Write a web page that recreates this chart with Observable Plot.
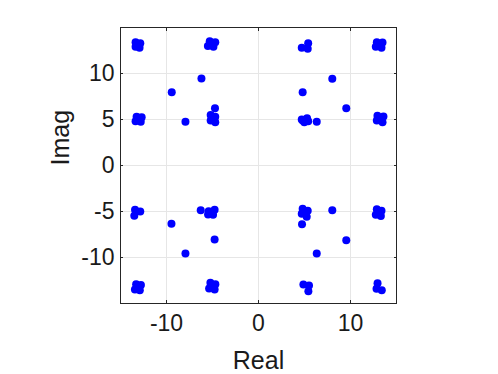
<!DOCTYPE html>
<html>
<head>
<meta charset="utf-8">
<script src="https://cdn.jsdelivr.net/npm/d3@7"></script>
<script src="https://cdn.jsdelivr.net/npm/@observablehq/plot@0.6"></script>
<style>
  html, body { margin: 0; padding: 0; background: #fff; }
  #chart svg { display: block; }
</style>
</head>
<body>
<div id="chart"></div>
<script>
const realParts = [
  -13.36, -12.85, -13.36, -12.93,
  -5.3, -4.7, -5.5, -4.9,
  -6.2, -9.43, -4.73, -7.94,
  -5.2, -4.7, -5.2, -4.7,
  -13.25, -12.7, -13.36, -12.8,
  4.7, 5.4, 5.35,
  12.86, 13.48, 12.75, 13.37,
  8.02, 4.8, 9.54, 6.33,
  4.8, 5.28, 4.98, 5.4, 4.7,
  12.93, 13.58, 12.86, 13.48,
  -13.42, -12.85, -13.5,
  -9.46, -6.28,
  -5.42, -4.77, -5.48, -4.94, -5.1,
  -4.77, -7.94,
  -13.3, -12.78, -13.43, -12.9,
  -5.23, -4.69, -5.37, -4.77,
  4.8, 5.35, 4.7, 5.24, 5.0, 4.73,
  8.02, 9.54, 6.33,
  12.86, 13.37, 12.75, 13.3,
  4.88, 5.49, 5.42,
  12.94, 12.83, 13.4
];
const imagParts = [
  13.4, 13.3, 12.9, 12.8,
  13.5, 13.4, 13.0, 12.9,
  9.46, 7.97, 6.23, 4.75,
  5.5, 5.3, 4.9, 4.7,
  5.3, 5.25, 4.8, 4.75,
  12.8, 13.3, 12.7,
  13.4, 13.37, 12.9, 12.8,
  9.42, 7.97, 6.23, 4.75,
  4.9, 5.14, 4.7, 4.8, 5.0,
  5.4, 5.33, 4.9, 4.7,
  -4.8, -5.0, -5.47,
  -6.34, -4.86,
  -4.97, -4.82, -5.33, -5.36, -5.1,
  -8.04, -9.57,
  -12.9, -13.0, -13.48, -13.55,
  -12.75, -12.9, -13.37, -13.48,
  -4.7, -4.92, -5.25, -5.58, -5.0, -6.38,
  -4.86, -8.12, -9.57,
  -4.75, -4.93, -5.36, -5.5,
  -12.93, -13.04, -13.66,
  -12.79, -13.4, -13.55
];
const xTicks = [-10, 0, 10];
const yTicks = [-10, -5, 0, 5, 10];
const xLabel = "Real";
const yLabel = "Imag";

const points = realParts.map((re, i) => ({re, im: imagParts[i]}));
const fmt = d => String(d);
const font = "'Liberation Sans', Arial, Helvetica, sans-serif";

const chart = Plot.plot({
  width: 498,
  height: 374,
  marginLeft: 120,
  marginRight: 102,
  marginTop: 27,
  marginBottom: 71,
  style: {fontFamily: font, fontSize: "23px", color: "#1a1a1a", background: "#fff"},
  x: {domain: [-15, 15], ticks: xTicks},
  y: {domain: [-15, 15], ticks: yTicks},
  marks: [
    Plot.gridX(xTicks, {stroke: "#e6e6e6", strokeOpacity: 1}),
    Plot.gridY(yTicks, {stroke: "#e6e6e6", strokeOpacity: 1}),
    Plot.dot(points, {x: "re", y: "im", r: 4, fill: "#0000ff", stroke: null}),
    Plot.frame({stroke: "#262626", strokeWidth: 1}),
    Plot.axisX(xTicks, {anchor: "bottom", tickSize: -3, tickPadding: 14, tickFormat: fmt, label: null, fontSize: 23, stroke: "#262626", color: "#1a1a1a"}),
    Plot.axisX(xTicks, {anchor: "top", tickSize: -3, tickFormat: () => "", label: null, stroke: "#262626"}),
    Plot.axisY(yTicks, {anchor: "left", tickSize: -3, tickPadding: 9, tickFormat: fmt, label: null, fontSize: 23, stroke: "#262626", color: "#1a1a1a"}),
    Plot.axisY(yTicks, {anchor: "right", tickSize: -3, tickFormat: () => "", label: null, stroke: "#262626"}),
    Plot.text([xLabel], {frameAnchor: "bottom", dy: 65, lineAnchor: "bottom", fontSize: 25, fill: "#1a1a1a"}),
    Plot.text([yLabel], {frameAnchor: "left", dx: -52, rotate: -90, lineAnchor: "bottom", fontSize: 25, fill: "#1a1a1a"})
  ]
});
document.getElementById("chart").appendChild(chart);
</script>
</body>
</html>
